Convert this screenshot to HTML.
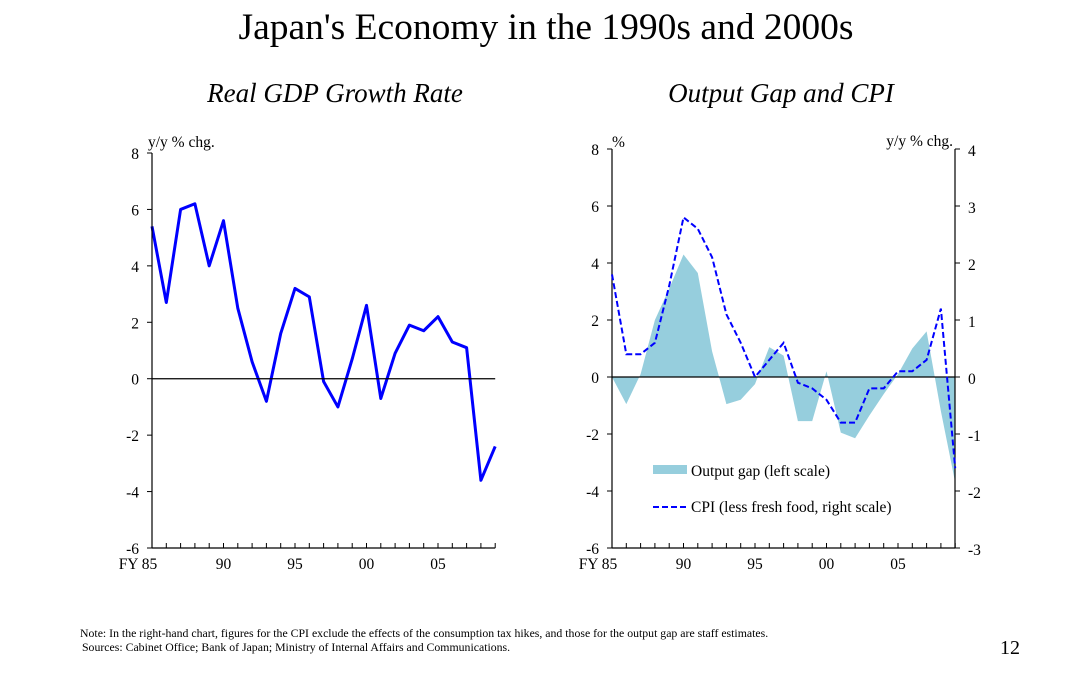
<!DOCTYPE html>
<html><head><meta charset="utf-8"><style>
body{margin:0;background:#fff;width:1080px;height:681px;overflow:hidden;font-family:"Liberation Serif",serif}
svg text{font-family:"Liberation Serif",serif}
</style></head><body>
<svg id="s" width="1080" height="681">
<text x="546" y="39" text-anchor="middle" font-size="37.5">Japan's Economy in the 1990s and 2000s</text>
<text x="335" y="102" text-anchor="middle" font-size="27" font-style="italic">Real GDP Growth Rate</text>
<text x="781" y="102" text-anchor="middle" font-size="27" font-style="italic">Output Gap and CPI</text>
<g id="L"></g>
<g id="R"></g>
<text x="80" y="637" font-size="11.8">Note: In the right-hand chart, figures for the CPI exclude the effects of the consumption tax hikes, and those for the output gap are staff estimates.</text>
<text x="82" y="651" font-size="11.8">Sources: Cabinet Office; Bank of Japan; Ministry of Internal Affairs and Communications.</text>
<text x="1020" y="654" text-anchor="end" font-size="20">12</text>
</svg>
<script>
const years=[1985,1986,1987,1988,1989,1990,1991,1992,1993,1994,1995,1996,1997,1998,1999,2000,2001,2002,2003,2004,2005,2006,2007,2008,2009];
const gdp=[5.4,2.7,6.0,6.2,4.0,5.6,2.5,0.6,-0.8,1.6,3.2,2.9,-0.1,-1.0,0.7,2.6,-0.7,0.9,1.9,1.7,2.2,1.3,1.1,-3.6,-2.4];
const gap=[0,-0.95,0.1,2.0,3.1,4.3,3.65,0.9,-0.95,-0.8,-0.25,1.05,0.75,-1.55,-1.55,0.2,-1.95,-2.15,-1.35,-0.6,0.1,1.0,1.6,-1.2,-3.7];
const cpi=[1.8,0.4,0.4,0.6,1.6,2.8,2.6,2.1,1.1,0.6,0,0.3,0.6,-0.1,-0.2,-0.4,-0.8,-0.8,-0.2,-0.2,0.1,0.1,0.3,1.2,-1.6];
const leftTicks=[8,6,4,2,0,-2,-4,-6];
const rightTicks=[4,3,2,1,0,-1,-2,-3];
const xLabels=["FY 85","90","95","00","05"];
const NS="http://www.w3.org/2000/svg";
function mk(p,t,a,txt){const e=document.createElementNS(NS,t);for(const k in a)e.setAttribute(k,a[k]);if(txt!==undefined)e.textContent=txt;p.appendChild(e);return e;}
function chart(x0,top,bot){
 const sx=y=>x0+(y-1985)*14.3;
 const sy=v=>top+(8-v)*(bot-top)/14;
 return {sx,sy};
}
function axes(g,x0,top,bot,sx,sy,right){
 let e=mk(g,'line',{x1:x0,y1:top,x2:x0,y2:bot,stroke:'#000','stroke-width':1.2});
 
 const xe=right?right:sx(2009);
 e=mk(g,'line',{x1:x0,y1:bot,x2:xe,y2:bot,stroke:'#000','stroke-width':1.2});
 
 leftTicks.forEach(v=>{mk(g,'line',{x1:x0,y1:sy(v),x2:x0-5,y2:sy(v),stroke:'#000'});
  const t=mk(g,'text',{x:x0-13,y:sy(v)+6,'text-anchor':'end','font-size':15.5},v);
  });
 years.forEach(y=>mk(g,'line',{x1:sx(y),y1:bot,x2:sx(y),y2:bot-5,stroke:'#000'}));
 xLabels.forEach((l,i)=>{const t=mk(g,'text',{x:sx(1985+5*i)+(i==0?-14:0),y:bot+21,'text-anchor':'middle','font-size':15.5},l);
  });
 e=mk(g,'line',{x1:x0,y1:sy(0),x2:xe,y2:sy(0),stroke:'#000','stroke-width':1.2});
 
}
(function(){
 const g=document.getElementById('L');const x0=152,top=153,bot=548;
 const {sx,sy}=chart(x0,top,bot);
 let t=mk(g,'text',{x:148,y:147,'font-size':15.5},'y/y % chg.');
 
 const l=mk(g,'polyline',{points:years.map((y,i)=>sx(y)+','+sy(gdp[i])).join(' '),fill:'none',stroke:'#0000ff','stroke-width':3,'stroke-linejoin':'round'});
 
 axes(g,x0,top,bot,sx,sy,null);
})();
(function(){
 const g=document.getElementById('R');const x0=612,top=149,bot=548,xr=955;
 const {sx,sy}=chart(x0,top,bot);
 const syr=v=>top+(4-v)*(bot-top)/7;
 let pts=sx(1985)+','+sy(0)+' '+years.map((y,i)=>sx(y)+','+sy(gap[i])).join(' ')+' '+sx(2009)+','+sy(0);
 let a=mk(g,'polygon',{points:pts,fill:'#96cedd'});
 
 axes(g,x0,top,bot,sx,sy,xr);
 mk(g,'line',{x1:xr,y1:top,x2:xr,y2:bot,stroke:'#000','stroke-width':1.2});
 rightTicks.forEach(v=>{mk(g,'line',{x1:xr,y1:syr(v),x2:xr+5,y2:syr(v),stroke:'#000'});
  const t=mk(g,'text',{x:xr+13,y:syr(v)+7,'font-size':15.5},v);
  });
 const l=mk(g,'polyline',{points:years.map((y,i)=>sx(y)+','+syr(cpi[i])).join(' '),fill:'none',stroke:'#0000ff','stroke-width':2,'stroke-dasharray':'6,3'});
 
 let t=mk(g,'text',{x:612,y:147,'font-size':15.5},'%');
 
 t=mk(g,'text',{x:953,y:146,'font-size':15.5,'text-anchor':'end'},'y/y % chg.');
 
 let r=mk(g,'rect',{x:653,y:465,width:34,height:9,fill:'#96cedd'});
 
 t=mk(g,'text',{x:691,y:476,'font-size':15.5},'Output gap (left scale)');
 
 r=mk(g,'line',{x1:653,y1:507,x2:688,y2:507,stroke:'#0000ff','stroke-width':2,'stroke-dasharray':'6,3'});
 
 t=mk(g,'text',{x:691,y:512,'font-size':15.5},'CPI (less fresh food, right scale)');
 
})();
</script>
</body></html>
